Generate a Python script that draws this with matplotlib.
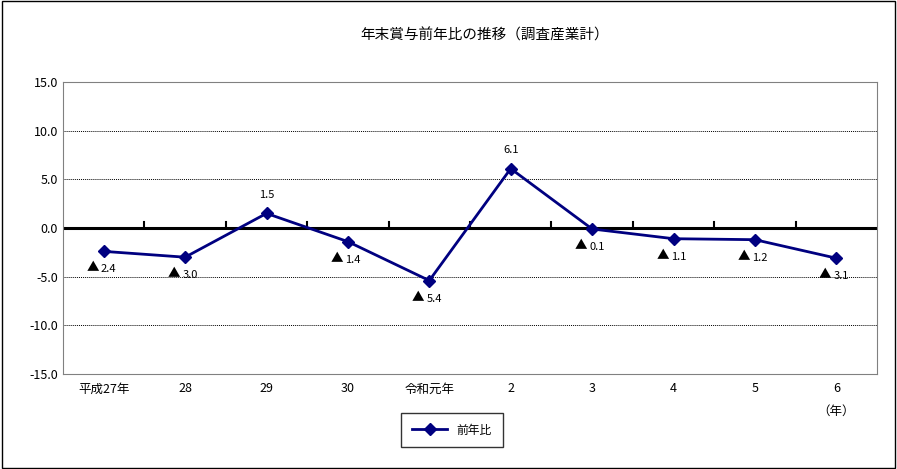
import matplotlib
matplotlib.use("Agg")
import matplotlib.pyplot as plt
from matplotlib.patches import Rectangle

plt.rcParams["font.family"] = ["Noto Sans CJK JP", "DejaVu Sans"]

categories = ["平成27年", "28", "29", "30", "令和元年", "2", "3", "4", "5", "6"]
values = [-2.4, -3.0, 1.5, -1.4, -5.4, 6.1, -0.1, -1.1, -1.2, -3.1]
yticks = [15.0, 10.0, 5.0, 0.0, -5.0, -10.0, -15.0]

fig = plt.figure(figsize=(8.97, 4.69), dpi=100)
fig.patches.append(Rectangle((0.002, 0.002), 0.996, 0.995, transform=fig.transFigure,
                             fill=False, edgecolor="black", linewidth=1))
ax = fig.add_axes([63/897, 1-374/469, (877-63)/897, (374-82)/469])
x = list(range(len(categories)))
ax.set_xlim(-0.5, len(categories)-0.5)
ax.set_ylim(-15, 15)
ax.set_yticks(yticks)
ax.set_yticklabels([f"{v:.1f}" for v in yticks], fontsize=9)
for v in yticks:
    if v not in (0.0, 15.0, -15.0):
        ax.axhline(v, color="black", linestyle=(0, (1, 1)), linewidth=0.7, zorder=1)
ax.axhline(0, color="black", linewidth=2.2, zorder=2)
for b in range(1, len(categories)):
    ax.plot([b-0.5, b-0.5], [0, 0.6], color="black", linewidth=1.5, zorder=2)
ax.plot(x, values, color="#000080", linewidth=2, marker="D", markersize=6, zorder=3, label="前年比")
ax.set_xticks(x)
ax.set_xticklabels(categories, fontsize=9)
ax.tick_params(axis="x", length=0, pad=6)
ax.tick_params(axis="y", length=0)
for s in ax.spines.values():
    s.set_color("#808080")
for xi, v in zip(x, values):
    if v >= 0:
        ax.annotate(f"{v:.1f}", (xi, v), xytext=(0, 10), textcoords="offset points",
                    ha="center", va="bottom", fontsize=8)
    else:
        ax.annotate("▲", (xi, v), xytext=(-8, -12), textcoords="offset points",
                    ha="center", va="center", fontsize=9)
        ax.annotate(f"{abs(v):.1f}", (xi, v), xytext=(-2, -13), textcoords="offset points",
                    ha="left", va="center", fontsize=8)
fig.text(836/897, 1-411/469, "（年）", ha="center", va="center", fontsize=9)
fig.text(485/897, 1-35/469, "年末賞与前年比の推移（調査産業計）", ha="center", va="center", fontsize=10.5)
leg = fig.legend(loc="center", bbox_to_anchor=(452/897, 1-430/469), fontsize=8.5,
                 frameon=True, fancybox=False, edgecolor="black", borderpad=0.9, handlelength=3)
fig.savefig("out.png", dpi=100)
